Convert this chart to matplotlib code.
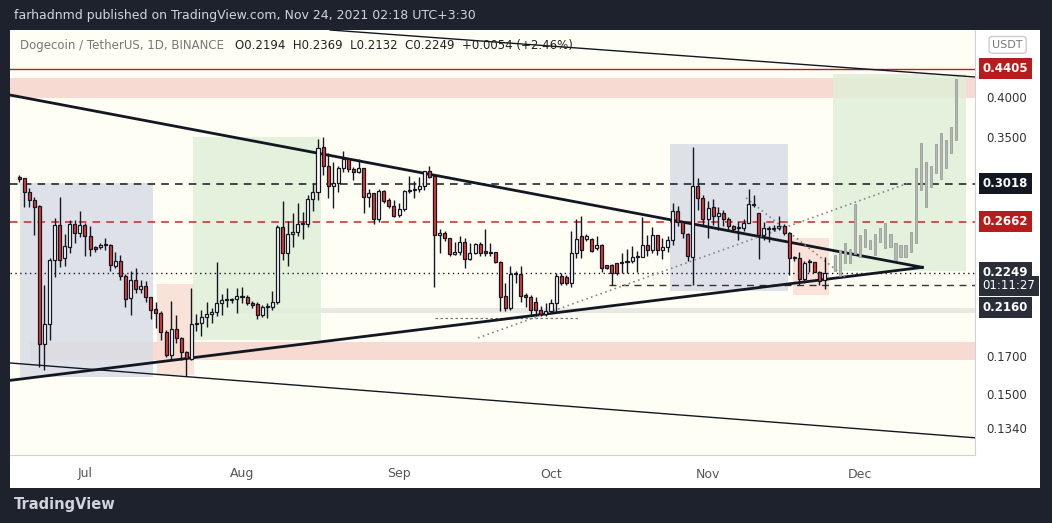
import datetime as dt
import matplotlib
matplotlib.use("Agg")
import matplotlib.pyplot as plt
import matplotlib.dates as mdates
import matplotlib.transforms as mtrans
from matplotlib.patches import Rectangle
import pandas as pd

# ---- data (DOGE/USDT daily) ----
FIRST_DAY = "2021-06-18"
opens = [.308, .3071, .2935, .286, .280, .178, .19, .2347, .263, .2364,
         .2452, .264, .2568, .263, .2535, .2445, .2445, .2462, .2462, .2297,
         .2335, .2229, .207, .2198, .2130, .2155, .2075, .1997, .1970, .185,
         .1713, .1868, .1813, .1733, .1693, .1898, .1905, .1943, .1962, .1977,
         .2035, .2055, .2058, .2060, .2077, .2077, .2035, .2030, .1955, .2009,
         .2009, .2040, .2613, .2399, .2554, .2573, .2640, .2645, .2865, .2933,
         .3400, .3198, .2994, .3026, .3180, .3270, .3167, .3138, .3173, .2886,
         .2925, .2683, .2945, .2860, .2803, .2721, .2772, .2945, .2950, .2962,
         .2994, .3145, .3095, .2545, .2562, .2520, .2394, .2411, .2492, .2352,
         .2403, .2473, .2415, .2407, .2407, .2330, .2087, .2002, .2240, .2240,
         .2090, .2080, .2045, .1991, .1963, .1980, .2035, .2226, .2221, .2178,
         .2400, .2535, .2510, .2515, .2438, .2462, .2309, .2309, .2322, .2327,
         .2332, .2335, .2372, .2372, .2468, .2426, .2545, .2426, .2445, .2506,
         .2757, .2657, .2557, .2372, .2994, .2875, .2683, .2790, .2713, .2737,
         .2683, .2626, .2614, .2605, .2654, .2815, .2737, .2550, .2598, .2600,
         .2610, .2626, .2564, .2365, .2365, .2203, .2335, .2327, .2257, .2194]
highs = [.310, .3074, .297, .289, .281, .216, .236, .2693, .289, .2557,
         .268, .268, .276, .265, .262, .246, .248, .2525, .247, .241,
         .2383, .224, .226, .2288, .2198, .219, .208, .204, .198, .186,
         .2051, .196, .182, .174, .2138, .1962, .1991, .2040, .2002, .2330,
         .2096, .2138, .2073, .2138, .2148, .209, .205, .2045, .202, .2035,
         .2117, .263, .285, .2664, .2737, .2829, .2752, .2906, .3020, .3496,
         .3522, .3333, .3243, .3198, .3357, .3281, .3190, .3270, .318, .2967,
         .293, .296, .295, .2875, .2860, .2835, .2950, .3097, .3045, .3087,
         .3150, .3198, .3110, .2600, .258, .2525, .2492, .2535, .2520, .2478,
         .2480, .2492, .2600, .2478, .241, .2335, .2178, .2297, .2263, .2297,
         .2104, .209, .2080, .2015, .2035, .2062, .2245, .2245, .223, .2580,
         .2683, .2716, .2555, .2525, .2540, .2470, .231, .2312, .2325, .2399,
         .2430, .2457, .2420, .2700, .2545, .2614, .2550, .2520, .2540, .2829,
         .2803, .266, .2560, .3400, .3070, .2902, .2851, .2865, .2790, .2766,
         .2700, .2634, .2664, .2683, .2962, .2906, .2740, .2657, .2626, .2634,
         .2713, .2640, .257, .238, .2411, .2335, .2352, .233, .2260, .2369]
lows = [.303, .279, .279, .255, .165, .1635, .180, .222, .229, .2302,
        .240, .248, .2528, .238, .238, .241, .243, .2426, .226, .2283,
        .2198, .2012, .1954, .2104, .2104, .2042, .193, .1874, .180, .1707,
        .169, .1786, .169, .160, .1685, .1854, .1827, .1884, .1905, .1948,
        .1960, .2012, .2035, .1970, .2035, .202, .200, .1931, .1943, .1937,
        .1991, .203, .2348, .2301, .2452, .254, .2518, .2613, .2760, .2858,
        .3105, .2875, .2782, .2935, .3138, .3138, .3054, .3122, .2743, .2797,
        .2643, .266, .2835, .278, .2700, .270, .2755, .2922, .2880, .2939,
        .2955, .3070, .2145, .2399, .250, .2380, .2384, .2384, .2283, .2348,
        .2395, .2376, .2376, .2376, .2322, .1980, .1980, .1991, .2172, .2045,
        .2012, .1960, .1948, .1948, .1952, .1970, .1970, .2162, .216, .2148,
        .2360, .2360, .2500, .2405, .2426, .2257, .2275, .2160, .2236, .2250,
        .2245, .2322, .2257, .2372, .2376, .2399, .2384, .2352, .2411, .2462,
        .2620, .2520, .2335, .2160, .2768, .2620, .2520, .2630, .2590, .2620,
        .2580, .2571, .2506, .2580, .2650, .2790, .2352, .2506, .2492, .2580,
        .2590, .2550, .2236, .234, .2160, .2172, .2257, .2255, .2160, .2132]
closes = [.306, .2935, .286, .279, .178, .19, .2347, .263, .2347, .2457,
          .264, .256, .2632, .2535, .243, .243, .2463, .2468, .231, .2335,
          .2229, .2062, .2198, .2130, .2155, .2075, .1991, .1970, .1850, .1713,
          .1868, .1813, .1733, .1698, .1898, .1905, .1943, .1962, .1977, .2035,
          .2053, .2060, .2062, .2085, .2085, .2035, .2024, .1955, .2009, .2012,
          .2040, .2613, .2399, .2554, .2573, .2640, .2645, .2865, .2933, .3390,
          .3198, .2994, .3026, .3180, .3270, .3167, .3138, .3173, .2886, .2925,
          .2683, .2945, .2853, .2803, .2716, .2772, .2945, .2955, .2962, .2994,
          .3145, .3087, .2545, .2562, .2520, .2394, .2411, .2492, .2352, .2403,
          .2473, .2403, .2399, .2399, .2330, .2080, .2002, .2240, .2245, .2087,
          .2080, .1991, .1991, .1965, .1980, .2035, .2226, .2178, .2178, .2400,
          .2515, .2426, .2540, .2418, .2462, .2283, .2283, .2245, .2250, .2322,
          .2335, .2372, .2380, .2468, .2426, .2545, .2426, .2445, .2506, .2757,
          .2657, .2560, .2376, .2994, .2875, .2683, .2788, .2713, .2737, .2683,
          .2620, .2598, .2605, .2654, .2821, .2821, .2550, .2610, .2600, .2610,
          .2626, .2564, .2360, .2360, .2203, .2322, .2327, .2257, .2190, .2249]

# projected (ghost) bars drawn as ranges
GHOST_FIRST_DAY = "2021-11-26"
ghost_lo = [.2266, .2225, .2322, .2322, .2392, .2372, .2452, .2430, .2384, .2492,
            .2437, .2452, .2348, .2366, .2366, .2411, .2478, .2950, .2791, .2988,
            .3122, .3060, .3173, .3334, .3482]
ghost_hi = [.2385, .2424, .2478, .2430, .2819, .2548, .2597, .2506, .2557, .2605,
            .2650, .2557, .2484, .2462, .2462, .2570, .3180, .3446, .3236, .3198,
            .3433, .3563, .3483, .3633, .4255]

# levels
LVL_RESIST = 0.4405
LVL_BLACK = 0.3018
LVL_RED = 0.2662
LVL_LAST = 0.2249
LVL_SUPPORT = 0.2160
LVL_LOW_DOT = 0.194
axis_ticks = [0.4000, 0.3500, 0.1700, 0.1500, 0.1340]
month_labels = ["Jul", "Aug", "Sep", "Oct", "Nov", "Dec"]

# zones: (day from Jul 1 start, end, low price, high price, colour)
zones = [
    (-15.0, 176.0, 0.4000, 0.4272, "#f6d5cc"),
    (-10.9, 176.0, 0.1690, 0.1790, "#f6d5cc"),
    (30.2, 176.0, 0.1970, 0.2004, "#e6e6e0"),
    (-12.8, 13.4, 0.1597, 0.3025, "#d9dde6"),
    (14.2, 21.5, 0.1608, 0.2168, "#f9ddd2"),
    (21.3, 46.6, 0.1803, 0.3517, "#e0efd9"),
    (115.5, 138.8, 0.2121, 0.3438, "#d9dde6"),
    (139.7, 146.9, 0.2090, 0.2520, "#f9ddd2"),
    (147.7, 174.0, 0.2266, 0.4328, "#e0efd9"),
]
# trend lines: (day0, price0, day1, price1, style)
trend_lines = [
    (-14.8, 0.404, 165.3, 0.229, dict(color="#131722", lw=2.0)),
    (-14.8, 0.1578, 165.3, 0.229, dict(color="#131722", lw=2.0)),
    (48.4, 0.5005, 175.7, 0.4287, dict(color="#131722", lw=1.0)),
    (-14.8, 0.1671, 175.7, 0.1306, dict(color="#131722", lw=1.0)),
    (77.6, 0.1815, 162.3, 0.3018, dict(color="#888888", lw=1.2, ls=(0, (1, 2)))),
    (130.5, 0.2878, 150.0, 0.2220, dict(color="#888888", lw=1.2, ls=(0, (1, 2)))),
]

BG = "#1e222d"
PLOT_BG = "#fffef5"

fig = plt.figure(figsize=(10.52, 5.23), dpi=100, facecolor=BG)
panel = fig.add_axes([10 / 1052, 35 / 523, 1030 / 1052, 458 / 523], facecolor="#ffffff", zorder=-5)
panel.set_axis_off()
panel.add_patch(Rectangle((0, 0), 1, 1, transform=panel.transAxes, color="#ffffff"))
ax = fig.add_axes([10 / 1052, 68 / 523, 965 / 1052, 425 / 523], facecolor=PLOT_BG)

jul1 = mdates.date2num(dt.datetime(2021, 7, 1))
dates = mdates.date2num(pd.date_range(FIRST_DAY, periods=len(opens)).to_pydatetime())
gdates = mdates.date2num(pd.date_range(GHOST_FIRST_DAY, periods=len(ghost_lo)).to_pydatetime())

ax.set_yscale("log")
ax.set_ylim(0.1234, 0.5005)
ax.set_xlim(jul1 - 14.8, jul1 + 175.7)

for d0, d1, lo, hi, col in zones:
    ax.add_patch(Rectangle((jul1 + d0, lo), d1 - d0, hi - lo, color=col, alpha=0.85,
                           lw=0, zorder=1))

# horizontal levels
ax.axhline(LVL_RESIST, color="#b22222", lw=1.0, zorder=2)
ax.axhline(LVL_BLACK, color="#131722", lw=1.1, ls=(0, (5, 4)), zorder=2)
ax.axhline(LVL_RED, color="#c62828", lw=1.1, ls=(0, (5, 4)), zorder=2)
ax.axhline(LVL_LAST, color="#131722", lw=1.0, ls=(0, (1, 2.5)), zorder=2)
ax.plot([jul1 + 103.5, jul1 + 176], [LVL_SUPPORT] * 2, color="#333333", lw=1.0,
        ls=(0, (5, 4)), zorder=2)
ax.plot([jul1 + 69.1, jul1 + 97.7], [LVL_LOW_DOT] * 2, color="#777777", lw=0.9,
        ls=(0, (2, 2)), zorder=2)

for d0, p0, d1, p1, st in trend_lines:
    ax.plot([jul1 + d0, jul1 + d1], [p0, p1], zorder=3, **st)

# ghost projection bars
ax.bar(gdates, [h - l for l, h in zip(ghost_lo, ghost_hi)], bottom=ghost_lo, width=0.45,
       color="#b4b8b4", edgecolor="#9a9e9a", lw=0.6, zorder=4)

# candles
for x, o, h, l, c in zip(dates, opens, highs, lows, closes):
    ax.vlines(x, l, h, color="#131722", lw=1.0, zorder=5)
    col = "#e53935" if c < o else "#ffffff"
    lo, hi = min(o, c), max(o, c)
    if hi - lo < 0.0008:
        hi = lo + 0.0008
    ax.bar(x, hi - lo, bottom=lo, width=0.6, color=col, edgecolor="#131722", lw=0.9, zorder=6)

# axes styling
for s in ax.spines.values():
    s.set_visible(False)
ax.spines["right"].set_visible(True)
ax.spines["right"].set_color("#cfd2d8")
ax.spines["bottom"].set_visible(True)
ax.spines["bottom"].set_color("#cfd2d8")
ax.yaxis.set_minor_locator(matplotlib.ticker.NullLocator())
ax.set_yticks([])
ax.set_xticks([mdates.date2num(dt.datetime(2021, m, 1)) for m in range(7, 13)])
ax.set_xticklabels(month_labels, color="#555555", fontsize=9)
ax.tick_params(axis="x", length=0, pad=9)

trans = mtrans.blended_transform_factory(ax.transAxes, ax.transData)
for v in axis_ticks:
    ax.text(1.012, v, f"{v:.4f}", transform=trans, fontsize=8.5, color="#333333",
            va="center", ha="left", clip_on=False)

tags = [(LVL_RESIST, "#b71c1c", "white"), (LVL_BLACK, "#131722", "white"),
        (LVL_RED, "#b71c1c", "white"), (LVL_LAST, "#2a2e39", "white")]
for v, bg, fg in tags:
    ax.text(1.008, v, f"{v:.4f}", transform=trans, fontsize=8.5, color=fg,
            va="center", ha="left", clip_on=False, fontweight="bold",
            bbox=dict(boxstyle="square,pad=0.35", fc=bg, ec="none"))
ax.text(1.008, 0.2155, "01:11:27", transform=trans, fontsize=8.5, color="white",
        va="center", ha="left", clip_on=False,
        bbox=dict(boxstyle="square,pad=0.3", fc="#2a2e39", ec="none"))
ax.text(1.008, 0.2005, f"{LVL_SUPPORT:.4f}", transform=trans, fontsize=8.5, color="white",
        va="center", ha="left", clip_on=False, fontweight="bold",
        bbox=dict(boxstyle="square,pad=0.35", fc="#2a2e39", ec="none"))
ax.text(1.018, 0.965, "USDT", transform=ax.transAxes, fontsize=8, color="#777777",
        va="center", ha="left", clip_on=False,
        bbox=dict(boxstyle="round,pad=0.3", fc="white", ec="#cccccc"))

# header / legend text
fig.text(14 / 1052, 1 - 15 / 523, "farhadnmd published on TradingView.com, Nov 24, 2021 02:18 UTC+3:30",
         color="#d1d4dc", fontsize=9, va="center")
fig.text(20 / 1052, 1 - 46 / 523, "Dogecoin / TetherUS, 1D, BINANCE", color="#777777",
         fontsize=8.5, va="center")
fig.text(235 / 1052, 1 - 46 / 523, "O0.2194  H0.2369  L0.2132  C0.2249  +0.0054 (+2.46%)",
         color="#222222", fontsize=8.5, va="center")
fig.text(14 / 1052, 1 - 505 / 523, "TradingView", color="#d1d4dc", fontsize=10.5,
         fontweight="bold", va="center")

fig.savefig("out.png", dpi=100, facecolor=BG)
